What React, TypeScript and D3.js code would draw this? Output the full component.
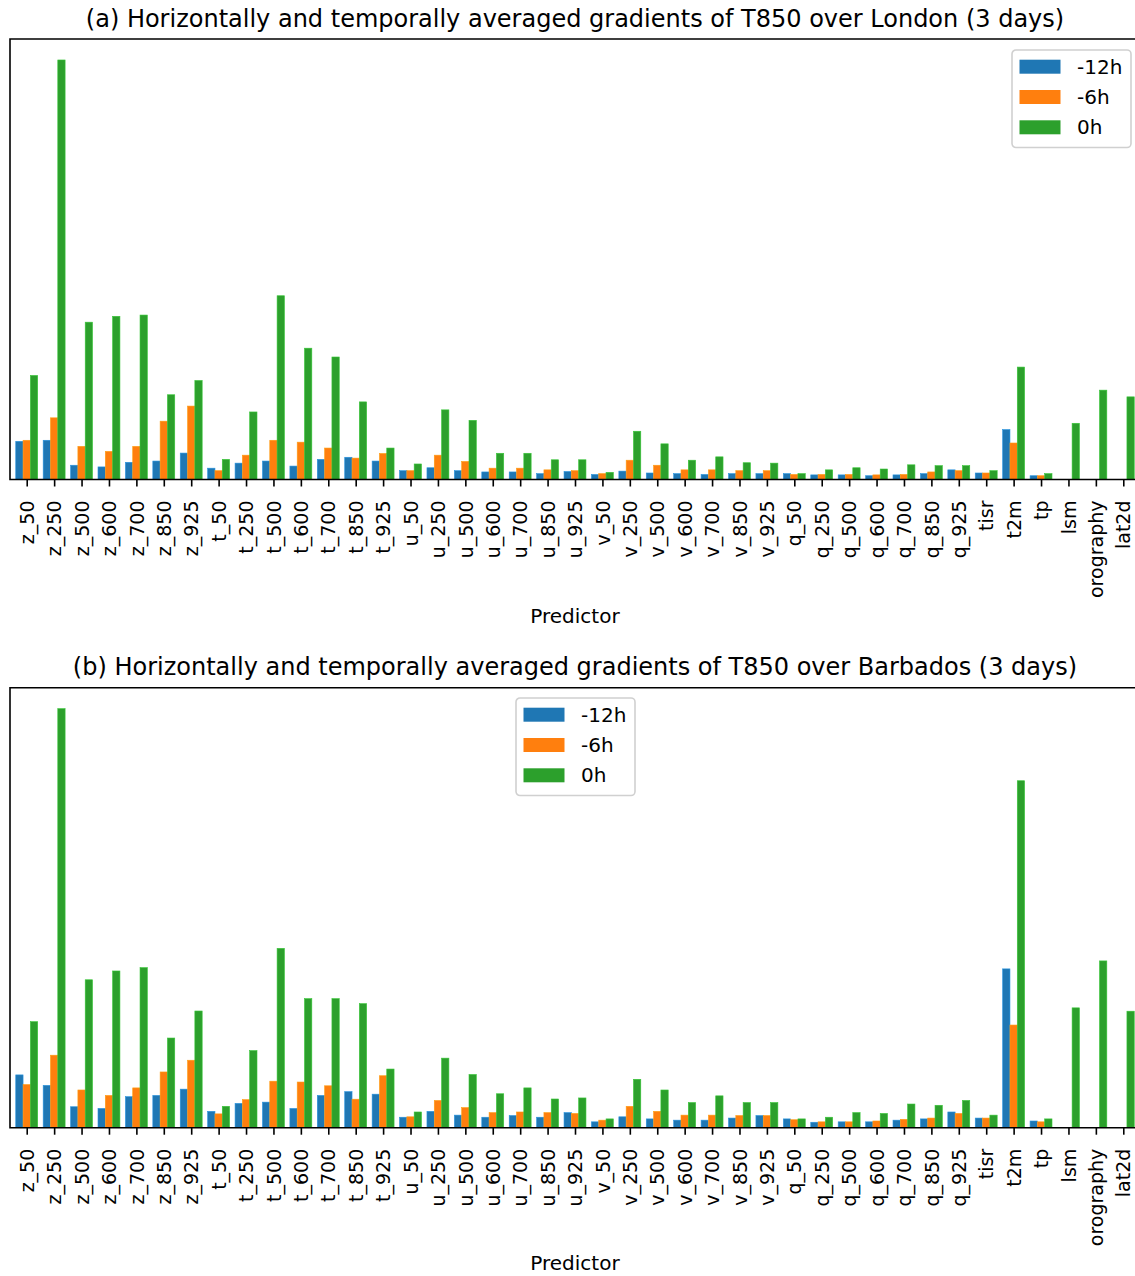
import React, { useEffect, useRef } from 'react';
import * as d3 from 'd3';

// Predictors on the x axis
const predictors = [
  'z_50', 'z_250', 'z_500', 'z_600', 'z_700', 'z_850', 'z_925',
  't_50', 't_250', 't_500', 't_600', 't_700', 't_850', 't_925',
  'u_50', 'u_250', 'u_500', 'u_600', 'u_700', 'u_850', 'u_925',
  'v_50', 'v_250', 'v_500', 'v_600', 'v_700', 'v_850', 'v_925',
  'q_50', 'q_250', 'q_500', 'q_600', 'q_700', 'q_850', 'q_925',
  'tisr', 't2m', 'tp', 'lsm', 'orography', 'lat2d'
];

const seriesNames = ['-12h', '-6h', '0h'];
const seriesColors = ['#1f77b4', '#ff7f0e', '#2ca02c'];

// (a) London - relative gradient magnitudes
const londonM12 = [
  9.1, 9.35, 3.4, 3.0, 4.1, 4.4, 6.3,
  2.7, 3.9, 4.4, 3.2, 4.8, 5.3, 4.4,
  2.1, 2.8, 2.1, 1.8, 1.8, 1.4, 1.9,
  1.2, 2.0, 1.55, 1.4, 1.2, 1.4, 1.4,
  1.4, 1.1, 1.1, 0.9, 1.1, 1.4, 2.3,
  1.55, 11.9, 0.9, 0, 0, 0
];
const londonM6 = [
  9.35, 14.7, 7.9, 6.7, 7.9, 13.9, 17.5,
  2.1, 5.8, 9.35, 8.9, 7.5, 5.1, 6.2,
  2.1, 5.8, 4.3, 2.7, 2.7, 2.3, 2.1,
  1.4, 4.6, 3.4, 2.3, 2.3, 2.1, 2.1,
  1.2, 1.2, 1.2, 1.1, 1.2, 1.8, 2.1,
  1.55, 8.7, 0.9, 0, 0, 0
];
const london0 = [
  24.8, 100, 37.5, 38.9, 39.2, 20.2, 23.6,
  4.8, 16.1, 43.8, 31.3, 29.2, 18.5, 7.5,
  3.7, 16.6, 14.1, 6.25, 6.25, 4.7, 4.7,
  1.7, 11.5, 8.5, 4.6, 5.4, 4.0, 3.9,
  1.4, 2.3, 2.8, 2.5, 3.5, 3.3, 3.3,
  2.1, 26.8, 1.4, 13.4, 21.3, 19.7
];

// (b) Barbados - relative gradient magnitudes
const barbadosM12 = [
  12.6, 10.1, 5.0, 4.6, 7.4, 7.7, 9.2,
  3.9, 5.8, 6.1, 4.6, 7.7, 8.6, 8.0,
  2.5, 3.9, 3.0, 2.5, 2.9, 2.5, 3.6,
  1.4, 2.6, 2.1, 1.8, 1.8, 2.3, 2.9,
  2.1, 1.3, 1.4, 1.4, 1.8, 2.1, 3.75,
  2.3, 37.9, 1.6, 0, 0, 0
];
const barbadosM6 = [
  10.3, 17.3, 9.0, 7.7, 9.5, 13.3, 16.1,
  3.3, 6.7, 11.1, 10.9, 10.0, 6.8, 12.4,
  2.6, 6.5, 4.8, 3.6, 3.75, 3.6, 3.4,
  1.8, 5.1, 3.9, 3.0, 3.0, 2.9, 2.9,
  1.9, 1.4, 1.4, 1.6, 2.0, 2.3, 3.4,
  2.3, 24.5, 1.4, 0, 0, 0
];
const barbados0 = [
  25.3, 100, 35.3, 37.4, 38.2, 21.4, 27.85,
  5.1, 18.4, 42.8, 30.8, 30.8, 29.6, 14.0,
  3.75, 16.6, 12.7, 8.1, 9.5, 6.85, 7.1,
  2.1, 11.55, 9.0, 6.0, 7.6, 6.0, 6.0,
  2.1, 2.5, 3.6, 3.4, 5.65, 5.35, 6.5,
  3.0, 82.8, 2.1, 28.6, 39.8, 27.8
];

const panels = [
  {
    title: '(a) Horizontally and temporally averaged gradients of T850 over London (3 days)',
    series: [londonM12, londonM6, london0],
    top: 39, bottom: 479.5, titleY: 27, xlabelY: 623,
    legend: { x: 1012, y: 50 }
  },
  {
    title: '(b) Horizontally and temporally averaged gradients of T850 over Barbados (3 days)',
    series: [barbadosM12, barbadosM6, barbados0],
    top: 687.7, bottom: 1127.7, titleY: 675, xlabelY: 1270,
    legend: { x: 516, y: 698 }
  }
];

const width = 1135;
const height = 1276;
const font = 'DejaVu Sans, sans-serif';

export default function App() {
  const ref = useRef<SVGSVGElement>(null);

  useEffect(() => {
    const svg = d3.select(ref.current);
    svg.selectAll('*').remove();

    const n = predictors.length;
    const x = d3.scaleLinear()
      .domain([-0.61, n - 1 + 0.61])
      .range([10, 1140]);
    const bw = 0.8 / 3;

    panels.forEach(p => {
      const g = svg.append('g');
      const ymax = d3.max(p.series.flat()) as number;
      const y = d3.scaleLinear()
        .domain([0, ymax * 1.05])
        .range([p.bottom, p.top]);

      // bars
      p.series.forEach((vals, j) => {
        g.append('g')
          .selectAll('rect')
          .data(vals)
          .enter().append('rect')
          .attr('x', (d, i) => x(i + (j - 1) * bw - bw / 2))
          .attr('width', x(bw) - x(0))
          .attr('y', d => y(d))
          .attr('height', d => y(0) - y(d))
          .attr('fill', seriesColors[j])
          .attr('stroke', d3.color(seriesColors[j])!.brighter(0.6).toString())
          .attr('stroke-width', 0.6);
      });

      // frame (left, top, bottom spines)
      const [x0, x1] = x.range();
      g.append('path')
        .attr('d', `M${x1},${p.top}H${x0}V${p.bottom}H${x1}`)
        .attr('fill', 'none')
        .attr('stroke', '#000')
        .attr('stroke-width', 1.6);

      // x axis ticks and labels
      const axis = d3.axisBottom(x)
        .tickValues(d3.range(n))
        .tickFormat(i => predictors[i as number])
        .tickSize(7)
        .tickPadding(7);
      const ax = g.append('g')
        .attr('transform', `translate(0,${p.bottom})`)
        .call(axis);
      ax.select('.domain').remove();
      ax.selectAll('line').attr('stroke', '#000').attr('stroke-width', 1.6);
      ax.selectAll('text')
        .attr('font-family', font)
        .attr('font-size', 19)
        .attr('fill', '#000')
        .attr('transform', 'rotate(-90)')
        .attr('text-anchor', 'end')
        .attr('x', -21)
        .attr('y', 0)
        .attr('dy', '0.35em');

      // title
      g.append('text')
        .attr('x', (x0 + x1) / 2)
        .attr('y', p.titleY)
        .attr('text-anchor', 'middle')
        .attr('font-family', font)
        .attr('font-size', 24)
        .text(p.title);

      // x label
      g.append('text')
        .attr('x', (x0 + x1) / 2)
        .attr('y', p.xlabelY)
        .attr('text-anchor', 'middle')
        .attr('font-family', font)
        .attr('font-size', 20)
        .text('Predictor');

      // legend
      const lg = g.append('g').attr('transform', `translate(${p.legend.x},${p.legend.y})`);
      lg.append('rect')
        .attr('width', 119)
        .attr('height', 97.5)
        .attr('rx', 4)
        .attr('fill', 'rgba(255,255,255,0.8)')
        .attr('stroke', '#d0d0d0')
        .attr('stroke-width', 1.6);
      seriesNames.forEach((name, j) => {
        const cy = 16.7 + j * 30.3;
        lg.append('rect')
          .attr('x', 7.5)
          .attr('y', cy - 7)
          .attr('width', 41)
          .attr('height', 14)
          .attr('fill', seriesColors[j]);
        lg.append('text')
          .attr('x', 65)
          .attr('y', cy + 7)
          .attr('font-family', font)
          .attr('font-size', 20)
          .text(name);
      });
    });
  }, []);

  return (
    <svg
      ref={ref}
      width={width}
      height={height}
      style={{ position: 'absolute', left: 0, top: 0, background: '#fff' }}
    />
  );
}
